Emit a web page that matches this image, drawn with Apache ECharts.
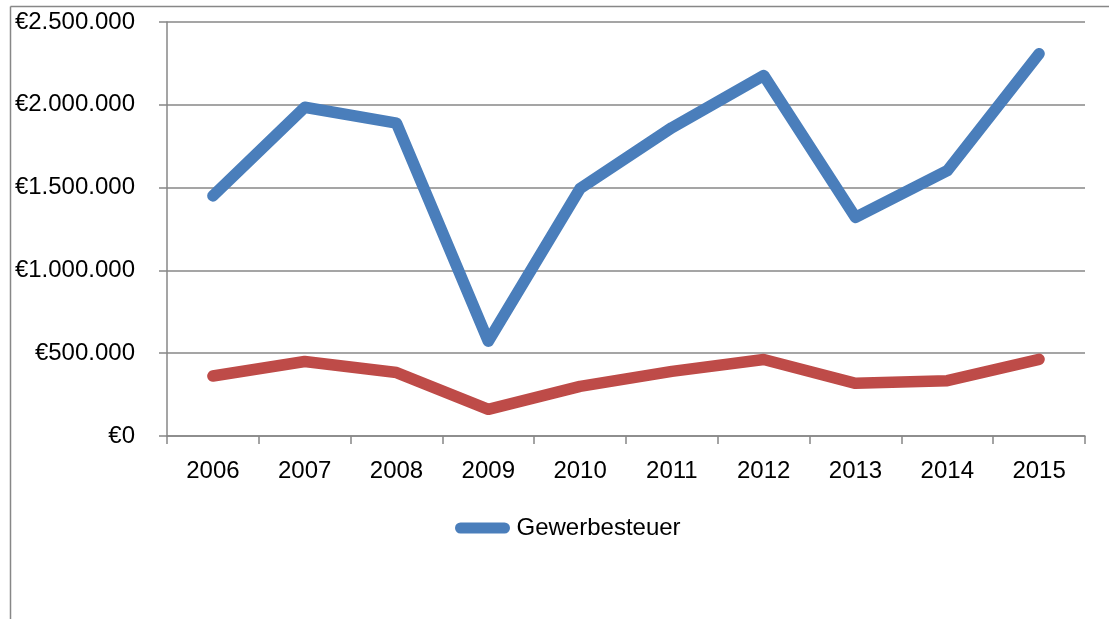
<!DOCTYPE html>
<html>
<head>
<meta charset="utf-8">
<script src="https://cdn.jsdelivr.net/npm/echarts@6/dist/echarts.min.js"></script>
<style>
html,body{margin:0;padding:0;background:#fff;}
#chart{width:1109px;height:619px;}
</style>
</head>
<body>
<div id="chart"></div>
<script>
const years = ['2006','2007','2008','2009','2010','2011','2012','2013','2014','2015'];
const gewerbesteuer = [1450000, 1985000, 1889000, 572000, 1495000, 1862000, 2177000, 1320000, 1602000, 2308000];
const zweiteReihe = [362000, 450000, 383000, 161000, 300000, 390000, 462000, 318000, 334000, 463000];
const yTicks = [0, 500000, 1000000, 1500000, 2000000, 2500000];

const FONT = 'Liberation Sans';
const GRAY = '#878787';

function euro(v){
  return '€' + String(Math.round(v)).replace(/\B(?=(\d{3})+(?!\d))/g, '.');
}

const chart = echarts.init(document.getElementById('chart'), null, {renderer:'canvas'});
chart.setOption({
  animation: false,
  backgroundColor: '#ffffff',
  textStyle: {fontFamily: FONT},
  grid: {left: 167, right: 24, top: 22, bottom: 183, containLabel: false},
  legend: {
    data: [{name: 'Gewerbesteuer', icon: 'path://M6,0 L54,0 A6,6 0 0 1 54,12 L6,12 A6,6 0 0 1 6,0 Z'}],
    left: 455,
    top: 516,
    padding: 0,
    itemWidth: 58,
    itemHeight: 11,
    textStyle: {fontFamily: FONT, fontSize: 24, color: '#000'}
  },
  xAxis: {
    type: 'category',
    data: years,
    boundaryGap: true,
    axisLine: {show: true, lineStyle: {color: GRAY, width: 1.5}},
    axisTick: {show: true, length: 8, alignWithLabel: false, lineStyle: {color: GRAY, width: 1.5}},
    axisLabel: {fontFamily: FONT, fontSize: 24, color: '#000', margin: 23},
    splitLine: {show: false}
  },
  yAxis: {
    type: 'value',
    min: yTicks[0],
    max: yTicks[yTicks.length - 1],
    interval: yTicks[1] - yTicks[0],
    axisLine: {show: true, lineStyle: {color: GRAY, width: 1.5}},
    axisTick: {show: true, length: 8, inside: false, lineStyle: {color: GRAY, width: 1.5}},
    axisLabel: {fontFamily: FONT, fontSize: 24, color: '#000', margin: 32, formatter: euro},
    splitLine: {show: true, lineStyle: {color: GRAY, width: 1.5}}
  },
  series: [
    {
      name: 'Gewerbesteuer',
      type: 'line',
      data: gewerbesteuer,
      symbol: 'none',
      color: '#4A7EBB',
      lineStyle: {width: 11.5, color: '#4A7EBB', cap: 'round', join: 'round'},
      z: 3
    },
    {
      name: 'Reihe 2',
      type: 'line',
      data: zweiteReihe,
      symbol: 'none',
      color: '#BE4B48',
      lineStyle: {width: 11.5, color: '#BE4B48', cap: 'round', join: 'round'},
      z: 2
    }
  ],
  graphic: [
    {type: 'line', shape: {x1: 10.5, y1: 6.5, x2: 1109, y2: 6.5}, style: {stroke: GRAY, lineWidth: 1.5}, silent: true},
    {type: 'line', shape: {x1: 10.5, y1: 6.5, x2: 10.5, y2: 619}, style: {stroke: GRAY, lineWidth: 1.5}, silent: true}
  ]
});
</script>
</body>
</html>
